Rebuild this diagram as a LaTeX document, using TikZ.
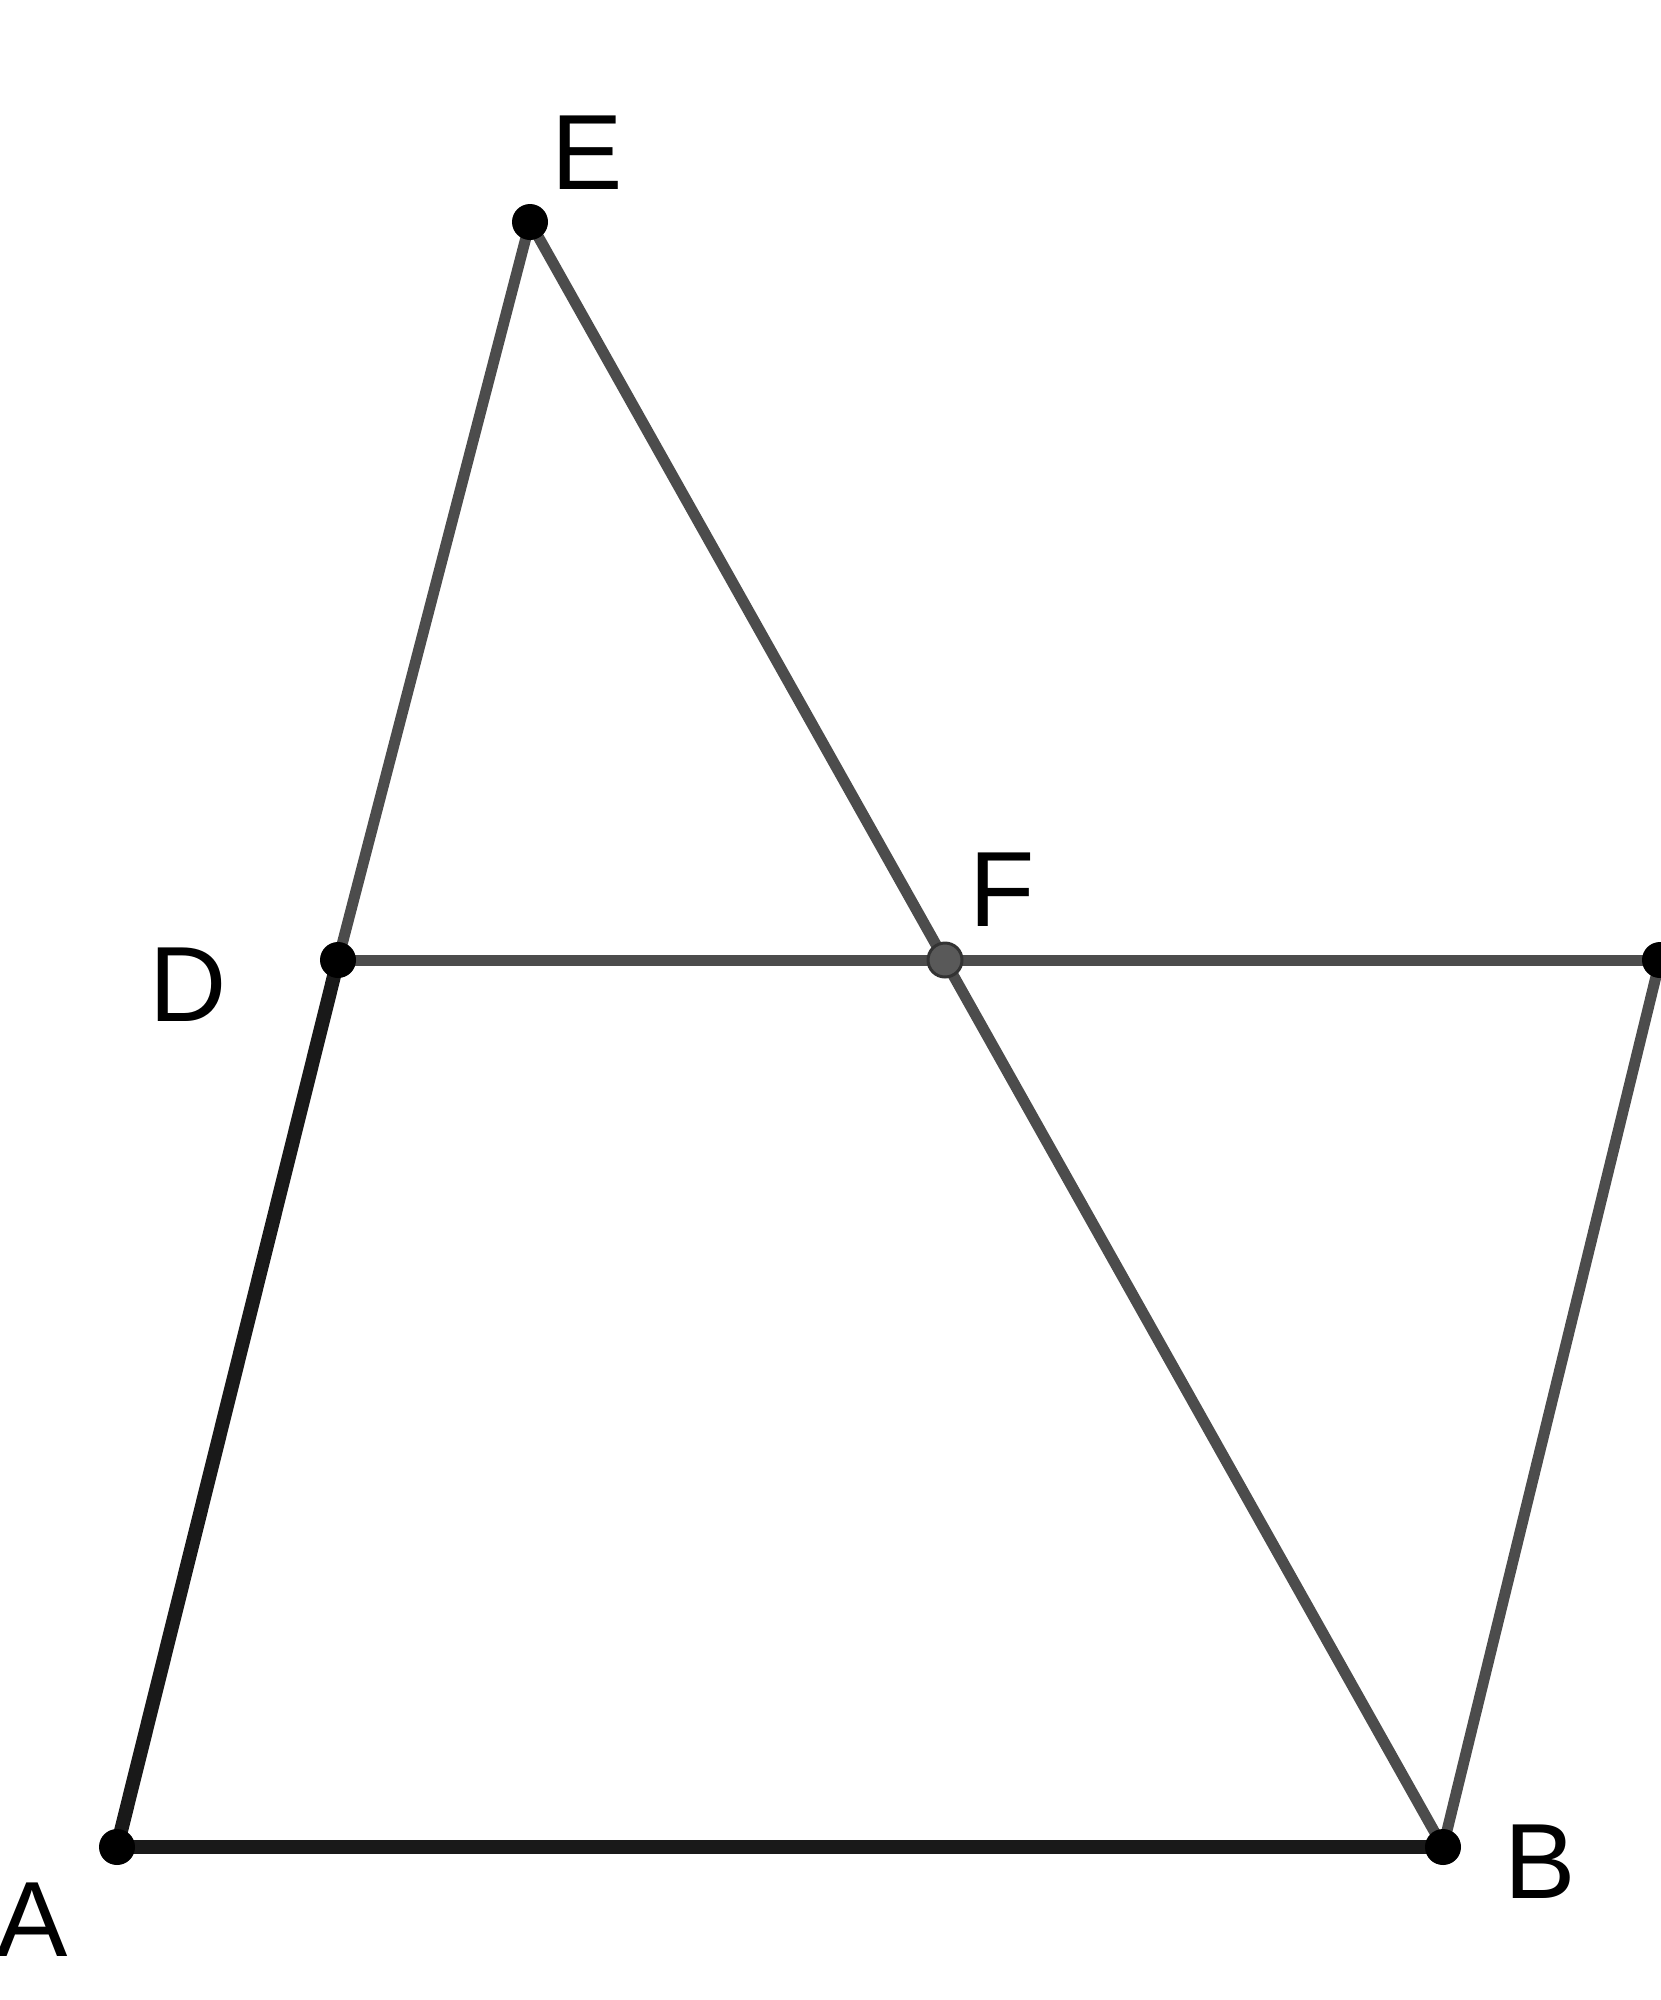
\documentclass[tikz,border=0pt]{standalone}
\usepackage{fontspec}
\setmainfont{Liberation Sans}
\begin{document}
\begin{tikzpicture}[x=1pt,y=-1pt,
  thickseg/.style={line width=14pt,black!90,line cap=round},
  greyseg/.style={line width=11pt,black!70,line cap=round},
  ptdot/.style={circle,fill=black,inner sep=0pt,minimum size=36pt},
  greydot/.style={circle,fill=black!65,draw=black!80,line width=3pt,inner sep=0pt,minimum size=34pt},
  lab/.style={font=\fontsize{107}{120}\selectfont,inner sep=0pt,anchor=center}]
\useasboundingbox (0,0) rectangle (1661,2000);
\fill[white] (0,0) rectangle (1661,2000);
\coordinate (A) at (117,1847);
\coordinate (B) at (1443,1847);
\coordinate (C) at (1660,960);
\coordinate (D) at (338,960);
\coordinate (E) at (530,222);
\coordinate (F) at (945,960);
\draw[greyseg] (D) -- (E);
\draw[greyseg] (E) -- (B);
\draw[greyseg] (D) -- (C);
\draw[greyseg] (B) -- (C);
\draw[thickseg] (A) -- (D);
\draw[thickseg] (A) -- (B);
\node[ptdot] (pA) at (A) {};
\node[ptdot] (pB) at (B) {};
\node[ptdot] (pC) at (C) {};
\node[ptdot] (pD) at (D) {};
\node[ptdot] (pE) at (E) {};
\node[greydot] (pF) at (F) {};
\node[lab] (lE) at (587,153) {E};
\node[lab] (lF) at (1002,890) {F};
\node[lab] (lD) at (188,985) {D};
\node[lab] (lA) at (32,1920) {A};
\node[lab] (lB) at (1540,1862) {B};
\end{tikzpicture}
\end{document}
